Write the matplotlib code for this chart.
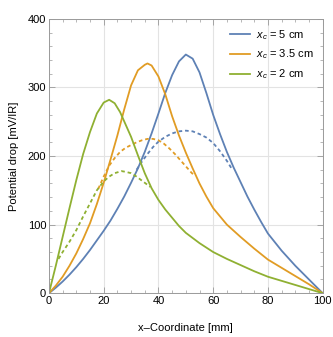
import numpy as np
import matplotlib.pyplot as plt
from matplotlib.ticker import MultipleLocator

# solid curves (x in mm, potential drop in mV/IR)
blue_x = [0, 2.5, 5, 7.5, 10, 12.5, 15, 17.5, 20, 22.5, 25, 27.5, 30, 32.5, 35, 37.5, 40,
          42.5, 45, 47.5, 50, 52.5, 55, 57.5, 60, 62.5, 65, 67.5, 70, 72.5, 75, 77.5, 80,
          85, 90, 95, 100]
blue_y = [0, 8, 17, 27, 38, 50, 63, 77, 91, 106, 123, 141, 161, 182, 206, 233, 262,
          292, 318, 338, 348, 342, 322, 292, 260, 232, 206, 183, 162, 141, 122, 104, 87,
          62, 40, 20, 0]

orange_x = [0, 2.5, 5, 7.5, 10, 12.5, 15, 17.5, 20, 22.5, 25, 27.5, 30, 32.5, 35, 36,
            37.5, 40, 42.5, 45, 47.5, 50, 52.5, 55, 57.5, 60, 65, 70, 75, 80, 85, 90, 95, 100]
orange_y = [0, 11, 24, 40, 58, 79, 102, 130, 161, 195, 230, 268, 303, 325, 333, 335,
            332, 316, 290, 258, 230, 205, 182, 160, 141, 124, 100, 82, 65, 49, 37, 25, 13, 0]

green_x = [0, 2.5, 5, 7.5, 10, 12.5, 15, 17.5, 20, 22, 24, 26, 28, 30, 32.5, 35, 37.5,
           40, 42.5, 45, 47.5, 50, 55, 60, 65, 70, 75, 80, 85, 90, 95, 100]
green_y = [0, 40, 82, 124, 165, 203, 235, 262, 278, 282, 277, 264, 246, 228, 201, 175, 153,
           136, 122, 110, 98, 88, 73, 60, 50, 41, 32, 24, 18, 12, 6, 0]

# dashed curves
blue_dx = [32, 34, 36, 38, 40, 42.5, 45, 47.5, 50, 52.5, 55, 57.5, 60, 62.5, 65, 67]
blue_dy = [180, 192, 203, 213, 221, 228, 233, 236, 237, 236, 232, 227, 219, 207, 193, 180]

orange_dx = [18, 20, 22, 24, 26, 28, 30, 32, 34, 36, 38, 40, 42, 44, 46, 48, 50, 52, 53]
orange_dy = [152, 170, 186, 197, 206, 212, 216, 220, 223, 225, 225, 223, 218, 211, 203,
             194, 185, 176, 172]

green_dx = [3.5, 5, 7.5, 10, 12.5, 15, 17.5, 20, 22, 24, 26.5, 28, 30, 32, 34, 36, 37]
green_dy = [50, 60, 75, 92, 112, 131, 150, 163, 170, 175, 178, 177, 175, 170, 164, 158, 155]

labels = [r"$x_c$ = 5 cm", r"$x_c$ = 3.5 cm", r"$x_c$ = 2 cm"]
colors = ["#5E81B5", "#E19C24", "#8FB032"]

plt.rcParams['font.family'] = ['Liberation Sans', 'DejaVu Sans']
plt.rcParams['mathtext.fontset'] = 'custom'
plt.rcParams['mathtext.it'] = 'Liberation Sans:italic'

fig = plt.figure(figsize=(3.33, 3.37), dpi=100)
ax = fig.add_axes([0.147, 0.130, 0.822, 0.814])

solids = [(blue_x, blue_y), (orange_x, orange_y), (green_x, green_y)]
dashes = [(blue_dx, blue_dy), (orange_dx, orange_dy), (green_dx, green_dy)]
for (sx, sy), (dx, dy), c, lab in zip(solids, dashes, colors, labels):
    ax.plot(sx, sy, color=c, lw=1.3, label=lab, solid_joinstyle='round')
    ax.plot(dx, dy, color=c, lw=1.3, ls=(0, (2, 1.6)))

ax.set_xlim(0, 100)
ax.set_ylim(0, 400)
ax.xaxis.set_major_locator(MultipleLocator(20))
ax.xaxis.set_minor_locator(MultipleLocator(5))
ax.yaxis.set_major_locator(MultipleLocator(100))
ax.yaxis.set_minor_locator(MultipleLocator(20))
ax.grid(True, which='major', color='#e3e3e3', lw=0.8)
ax.set_axisbelow(True)
ax.tick_params(which='both', direction='in', top=True, right=True,
               color='#9a9a9a', labelsize=8, pad=2)
ax.tick_params(which='major', length=4, width=0.6)
ax.tick_params(which='minor', length=2, width=0.5)
for s in ax.spines.values():
    s.set_color('#9a9a9a')
    s.set_linewidth(0.7)

ax.set_xlabel("x\u2013Coordinate [mm]", fontsize=8, labelpad=12)
ax.set_ylabel("Potential drop [mV/IR]", fontsize=8, labelpad=6)

ax.legend(loc='upper right', frameon=False, fontsize=8, handlelength=1.8,
          handletextpad=0.6, labelspacing=0.55, borderaxespad=0.4)

fig.savefig("out.png", dpi=100)
